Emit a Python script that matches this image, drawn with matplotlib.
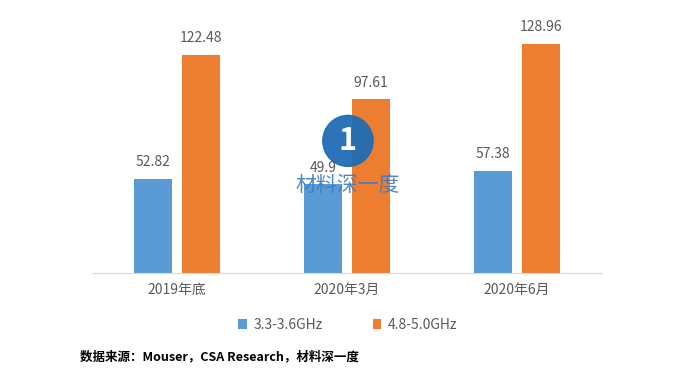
import matplotlib
matplotlib.use("Agg")
import matplotlib.pyplot as plt
import numpy as np
from matplotlib.patches import Ellipse

plt.rcParams["font.family"] = ["Noto Sans CJK SC", "DejaVu Sans"]

categories = ["2019年底", "2020年3月", "2020年6月"]
series_names = ["3.3-3.6GHz", "4.8-5.0GHz"]
low_band = [52.82, 49.9, 57.38]
high_band = [122.48, 97.61, 128.96]
low_labels = ["52.82", "49.9", "57.38"]
high_labels = ["122.48", "97.61", "128.96"]

BLUE = "#5B9BD5"
ORANGE = "#ED7D31"
GRAY = "#595959"


def main():
    fig = plt.figure(figsize=(6.89, 3.86), dpi=100)
    ax = fig.add_axes([0.1335, 0.2927, 0.7405, 0.645])

    x = np.arange(len(categories))
    w = 0.224
    off = 0.141
    b1 = ax.bar(x - off, low_band, w, color=BLUE, label=series_names[0])
    b2 = ax.bar(x + off, high_band, w, color=ORANGE, label=series_names[1])

    for rect, lab in zip(b1, low_labels):
        ax.annotate(lab, (rect.get_x() + rect.get_width() / 2, rect.get_height()),
                    xytext=(0, 7), textcoords="offset points", ha="center",
                    va="bottom", fontsize=10, color=GRAY, zorder=8)
    for rect, lab in zip(b2, high_labels):
        ax.annotate(lab, (rect.get_x() + rect.get_width() / 2, rect.get_height()),
                    xytext=(0, 7), textcoords="offset points", ha="center",
                    va="bottom", fontsize=10, color=GRAY, zorder=8)

    ax.set_xlim(-0.5, 2.5)
    ax.set_ylim(0, 140)
    ax.set_xticks(x)
    ax.set_xticklabels(categories, fontsize=10, color=GRAY)
    ax.tick_params(axis="x", length=0, pad=7)
    ax.set_yticks([])
    for s in ["top", "right", "left"]:
        ax.spines[s].set_visible(False)
    ax.spines["bottom"].set_color("#D9D9D9")

    # watermark
    ax.add_patch(Ellipse((0.505, 0.635), 0.073, 0.132, transform=fig.transFigure,
                         color="#1F6DB5", alpha=0.95, zorder=4, clip_on=False))
    ax.text(0.505, 0.635, "1", fontsize=22, fontweight="bold", color="white",
            ha="center", va="center", zorder=5, style="italic",
            transform=fig.transFigure)
    ax.text(0.505, 0.52, "材料深一度", fontsize=15, color="#3A7CC4",
            ha="center", va="center", zorder=5, alpha=0.9,
            transform=fig.transFigure)

    fig.legend(handles=[b1, b2], labels=series_names, loc="center",
               bbox_to_anchor=(0.505, 0.158), ncol=2, frameon=False,
               fontsize=10, handlelength=0.6, handleheight=0.7,
               columnspacing=3.6, handletextpad=0.5, labelcolor=GRAY)

    fig.text(0.116, 0.075, "数据来源：Mouser，CSA Research，材料深一度",
             fontsize=9, fontweight="bold", color="black", ha="left", va="center")

    fig.savefig("out.png", dpi=100)


if __name__ == "__main__":
    main()
